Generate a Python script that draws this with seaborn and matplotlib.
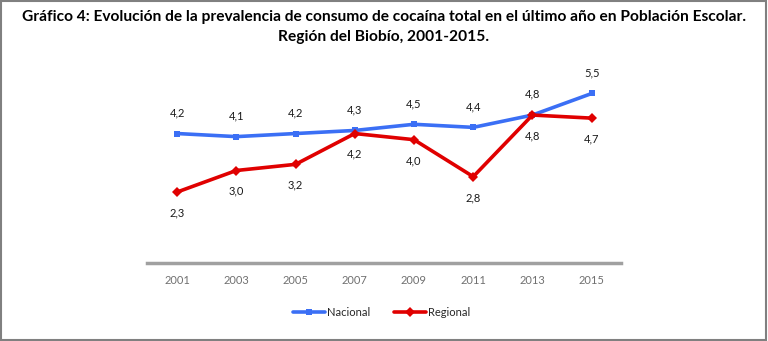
import matplotlib
matplotlib.use("Agg")
import matplotlib.pyplot as plt
import seaborn as sns
import pandas as pd
from matplotlib.patches import Rectangle
from matplotlib.lines import Line2D

years = ["2001", "2003", "2005", "2007", "2009", "2011", "2013", "2015"]
nacional = [4.2, 4.1, 4.2, 4.3, 4.5, 4.4, 4.8, 5.5]
regional = [2.3, 3.0, 3.2, 4.2, 4.0, 2.8, 4.8, 4.7]
series_names = ["Nacional", "Regional"]

df = pd.DataFrame({
    "year": years * 2,
    "value": nacional + regional,
    "serie": [series_names[0]] * len(years) + [series_names[1]] * len(years),
})

sns.set_theme(style="white")
plt.rcParams["font.family"] = ["Lato", "DejaVu Sans"]

colors = {"Nacional": "#3B6FF5", "Regional": "#E00000"}

fig = plt.figure(figsize=(7.68, 3.41), dpi=100)
ax = fig.add_axes([0.192, 0.229, 0.617, 0.542])

sns.lineplot(data=df, x="year", y="value", hue="serie", style="serie",
             markers={"Nacional": "s", "Regional": "D"}, dashes=False,
             palette=colors, linewidth=2.6, markersize=5, markeredgewidth=0,
             sort=False, ax=ax, legend=False)

# value labels: national above, regional below
for i, (n, r) in enumerate(zip(nacional, regional)):
    ax.annotate(f"{n:.1f}".replace(".", ","), (i, n), xytext=(0, 15),
                textcoords="offset points", ha="center", va="center",
                fontsize=8, color="#1a1a1a")
    ax.annotate(f"{r:.1f}".replace(".", ","), (i, r), xytext=(0, -15),
                textcoords="offset points", ha="center", va="center",
                fontsize=8, color="#1a1a1a")

ax.set_xlim(-0.5, len(years) - 0.5)
ax.set_ylim(0, 6)
ax.set_xlabel("")
ax.set_ylabel("")
ax.set_yticks([])
for side in ["top", "right", "left"]:
    ax.spines[side].set_visible(False)
ax.spines["bottom"].set_color("#A0A0A0")
ax.spines["bottom"].set_linewidth(2.5)
ax.tick_params(axis="x", length=0, pad=9, labelsize=8, labelcolor="#707070")

handles = [Line2D([], [], color=colors["Nacional"], marker="s", lw=2.6, ms=5, mew=0),
           Line2D([], [], color=colors["Regional"], marker="D", lw=2.6, ms=5, mew=0)]
fig.legend(handles, series_names, loc="center", bbox_to_anchor=(0.497, 0.085),
           ncol=2, frameon=False, fontsize=8, handlelength=2.8,
           handletextpad=0.2, columnspacing=2.2)

fig.text(0.5, 0.95, "Gráfico 4: Evolución de la prevalencia de consumo de cocaína total en el último año en Población Escolar.",
         ha="center", va="center", fontsize=11.2, fontweight="bold", color="black")
fig.text(0.5, 0.891, "Región del Biobío, 2001-2015.",
         ha="center", va="center", fontsize=11.2, fontweight="bold", color="black")

fig.patches.append(Rectangle((0.001, 0.002), 0.997, 0.995, transform=fig.transFigure,
                             fill=False, edgecolor="#808080", linewidth=1.5))

fig.savefig("out.png", dpi=100, facecolor="white")
